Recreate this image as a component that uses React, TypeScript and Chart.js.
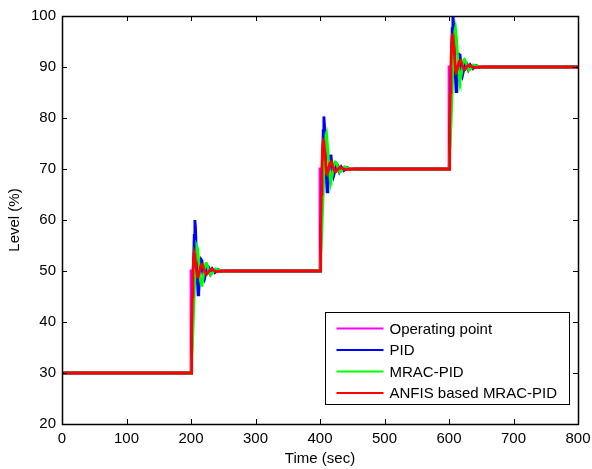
import React, { useEffect, useRef } from "react";
import { Chart, registerables } from "chart.js";

Chart.register(...registerables);

const seriesLabels = ["Operating point", "PID", "MRAC-PID", "ANFIS based MRAC-PID"];
const seriesColors = ["#FF00FF", "#0000FF", "#00FF00", "#FF0000"];

const xTicks = [0, 100, 200, 300, 400, 500, 600, 700, 800];
const yTicks = [20, 30, 40, 50, 60, 70, 80, 90, 100];

const opTime = [0, 200, 200, 400, 400, 600, 600, 800];
const opLevel = [30, 30, 50, 50, 70, 70, 90, 90];

const pidTime = [
  0, 200, 201, 203, 205, 206, 207, 209, 211, 212, 214, 216, 217, 219, 221, 223, 225, 227, 230, 233, 237, 242, 248, 255,
  400, 401, 403, 405, 406, 407, 409, 411, 412, 414, 416, 417, 419, 421, 423, 425, 427, 430, 433, 437, 442, 448, 455,
  600, 601, 603, 605, 606, 607, 609, 611, 612, 614, 616, 617, 619, 621, 623, 625, 627, 630, 633, 637, 642, 648, 655, 800,
];
const pidLevel = [
  30, 30, 34, 47, 57, 60, 58.5, 50.5, 45.3, 45.8, 49.8, 52.2, 52, 49.3, 48.5, 49.5, 51, 50.8, 49.5, 50.4, 49.7, 50.3, 49.9, 50,
  50, 54, 67, 77.5, 80.3, 78.5, 70.5, 65.5, 66, 70, 72.5, 72.8, 69.8, 68.6, 69.5, 71, 70.8, 69.5, 70.4, 69.7, 70.3, 69.9, 70,
  70, 74, 87, 97.5, 100.5, 98.5, 90.5, 85.2, 85.8, 90, 92.5, 92.6, 89.5, 88.4, 89.5, 91, 90.8, 89.5, 90.4, 89.7, 90.3, 89.9, 90, 90,
];

const mracTime = [
  0, 200, 202, 204, 206, 208, 209, 210, 212, 214, 216, 217, 219, 221, 223, 224, 226, 228, 231, 234, 238, 243, 250, 258,
  400, 402, 404, 406, 408, 409, 410, 412, 414, 416, 417, 419, 421, 423, 424, 426, 428, 431, 434, 438, 443, 450, 458,
  600, 602, 604, 606, 608, 609, 610, 612, 614, 616, 617, 619, 621, 623, 624, 626, 628, 631, 634, 638, 643, 650, 658, 800,
];
const mracLevel = [
  30, 30, 35, 42, 49, 53.5, 54.8, 54.5, 52, 48.8, 47.2, 47.3, 48.8, 50.6, 51.5, 51.5, 50.8, 49.8, 49.3, 49.8, 50.4, 50.2, 49.9, 50,
  50, 55, 62, 69, 74.5, 76.6, 77, 74, 70.2, 67.8, 67.6, 68.8, 70.6, 71.4, 71.4, 71, 70.1, 69.4, 69.8, 70.4, 70.2, 69.9, 70,
  70, 75, 82, 89.5, 95, 97, 97.6, 95, 90.5, 87.8, 87.3, 88.5, 90.4, 91.4, 91.5, 91, 90.1, 89.4, 89.7, 90.4, 90.2, 89.9, 90, 90,
];

const anfisTime = [
  0, 200, 201, 202, 203, 204, 205, 206, 208, 210, 211, 213, 215, 217, 218, 220, 223, 225, 228, 231, 235, 240, 250,
  400, 401, 402, 403, 404, 405, 406, 408, 410, 411, 413, 415, 417, 418, 420, 423, 425, 428, 431, 435, 440, 450,
  600, 601, 602, 603, 604, 605, 606, 608, 610, 611, 613, 615, 617, 618, 620, 623, 625, 628, 631, 635, 640, 650, 800,
];
const anfisLevel = [
  30, 30, 38, 45, 50, 52.5, 53.5, 53, 50.5, 48.9, 48.8, 49.8, 51, 51.3, 51.2, 50.3, 49.4, 49.4, 50, 50.4, 50.1, 49.9, 50,
  50, 58, 65, 70.5, 74, 75.5, 75.3, 72.5, 69.2, 69, 69.8, 71, 71.4, 71.3, 70.4, 69.5, 69.5, 70, 70.4, 70.1, 69.9, 70,
  70, 78, 85, 90.5, 94.5, 96.3, 96.5, 93.5, 89.5, 89, 89.6, 90.8, 91.3, 91.3, 90.5, 89.6, 89.5, 90.1, 90.4, 90.1, 89.9, 90, 90,
];

const FONT = "'Liberation Sans', Arial, sans-serif";

const framePlugin = {
  id: "matlabFrame",
  afterDatasetsDraw(chart: any) {
    const { ctx, chartArea } = chart;
    const { left, right, top, bottom } = chartArea;
    const xs = chart.scales.x;
    const ys = chart.scales.y;
    const tl = 5;
    ctx.save();
    ctx.strokeStyle = "#000";
    ctx.lineWidth = 1;
    ctx.beginPath();
    xTicks.forEach((v) => {
      const px = Math.round(xs.getPixelForValue(v)) + 0.5;
      ctx.moveTo(px, bottom);
      ctx.lineTo(px, bottom - tl);
      ctx.moveTo(px, top);
      ctx.lineTo(px, top + tl);
    });
    yTicks.forEach((v) => {
      const py = Math.round(ys.getPixelForValue(v)) + 0.5;
      ctx.moveTo(left, py);
      ctx.lineTo(left + tl, py);
      ctx.moveTo(right, py);
      ctx.lineTo(right - tl, py);
    });
    ctx.stroke();
    ctx.lineWidth = 1.5;
    ctx.strokeRect(Math.round(left) + 0.5, Math.round(top) + 0.5, Math.round(right - left), Math.round(bottom - top));

    // legend
    const bw = 244;
    const bh = 92;
    const bx = Math.round(right - 9 - bw) + 0.5;
    const by = Math.round(bottom - 20 - bh) + 0.5;
    ctx.fillStyle = "#fff";
    ctx.fillRect(bx, by, bw, bh);
    ctx.lineWidth = 1;
    ctx.strokeStyle = "#000";
    ctx.strokeRect(bx, by, bw, bh);
    ctx.font = `15px ${FONT}`;
    ctx.textBaseline = "middle";
    ctx.textAlign = "left";
    chart.data.datasets.forEach((ds: any, i: number) => {
      const y = by + 16 + i * 21.5;
      ctx.strokeStyle = ds.borderColor;
      ctx.lineWidth = 2;
      ctx.beginPath();
      ctx.moveTo(bx + 11, y);
      ctx.lineTo(bx + 58, y);
      ctx.stroke();
      ctx.fillStyle = "#000";
      ctx.fillText(ds.label, bx + 64, y + 1);
    });
    ctx.restore();
  },
};

function toPoints(t: number[], v: number[]) {
  return t.map((x, i) => ({ x, y: v[i] }));
}

export default function App() {
  const ref = useRef<HTMLCanvasElement | null>(null);
  useEffect(() => {
    if (!ref.current) return;
    const all = [
      toPoints(opTime, opLevel),
      toPoints(pidTime, pidLevel),
      toPoints(mracTime, mracLevel),
      toPoints(anfisTime, anfisLevel),
    ];
    const orders = [3, 2, 1, 0];
    const chart = new Chart(ref.current, {
      type: "line",
      data: {
        datasets: all.map((d, i) => ({
          label: seriesLabels[i],
          data: d,
          borderColor: seriesColors[i],
          backgroundColor: seriesColors[i],
          borderWidth: 2.8,
          pointRadius: 0,
          tension: 0,
          fill: false,
          order: orders[i],
        })),
      },
      options: {
        animation: false,
        responsive: true,
        maintainAspectRatio: false,
        layout: { padding: { top: 16, right: 14, left: 0, bottom: 0 } },
        plugins: {
          legend: { display: false },
          tooltip: { enabled: false },
        },
        scales: {
          x: {
            type: "linear",
            min: 0,
            max: 800,
            afterBuildTicks: (s: any) => {
              s.ticks = xTicks.map((v) => ({ value: v }));
            },
            afterFit: (s: any) => {
              s.height = 45;
              s.paddingLeft = 0;
              s.paddingRight = 0;
            },
            grid: { display: false, drawTicks: false },
            border: { display: false },
            ticks: {
              color: "#000",
              padding: 6,
              font: { family: FONT, size: 15 },
              maxRotation: 0,
              autoSkip: false,
            },
            title: {
              display: true,
              text: "Time (sec)",
              color: "#000",
              font: { family: FONT, size: 15 },
              padding: { top: 0, bottom: 1 },
            },
          },
          y: {
            type: "linear",
            min: 20,
            max: 100,
            afterBuildTicks: (s: any) => {
              s.ticks = yTicks.map((v) => ({ value: v }));
            },
            afterFit: (s: any) => {
              s.width = 62;
              s.paddingTop = 0;
              s.paddingBottom = 0;
            },
            grid: { display: false, drawTicks: false },
            border: { display: false },
            ticks: {
              color: "#000",
              padding: 6,
              font: { family: FONT, size: 15 },
              autoSkip: false,
            },
            title: {
              display: true,
              text: "Level (%)",
              color: "#000",
              font: { family: FONT, size: 15 },
              padding: { top: 6, bottom: 0 },
            },
          },
        },
      },
      plugins: [framePlugin],
    });
    return () => chart.destroy();
  }, []);
  return (
    <div style={{ position: "absolute", left: 0, top: 0, width: 592, height: 469, background: "#fff" }}>
      <canvas ref={ref} />
    </div>
  );
}
